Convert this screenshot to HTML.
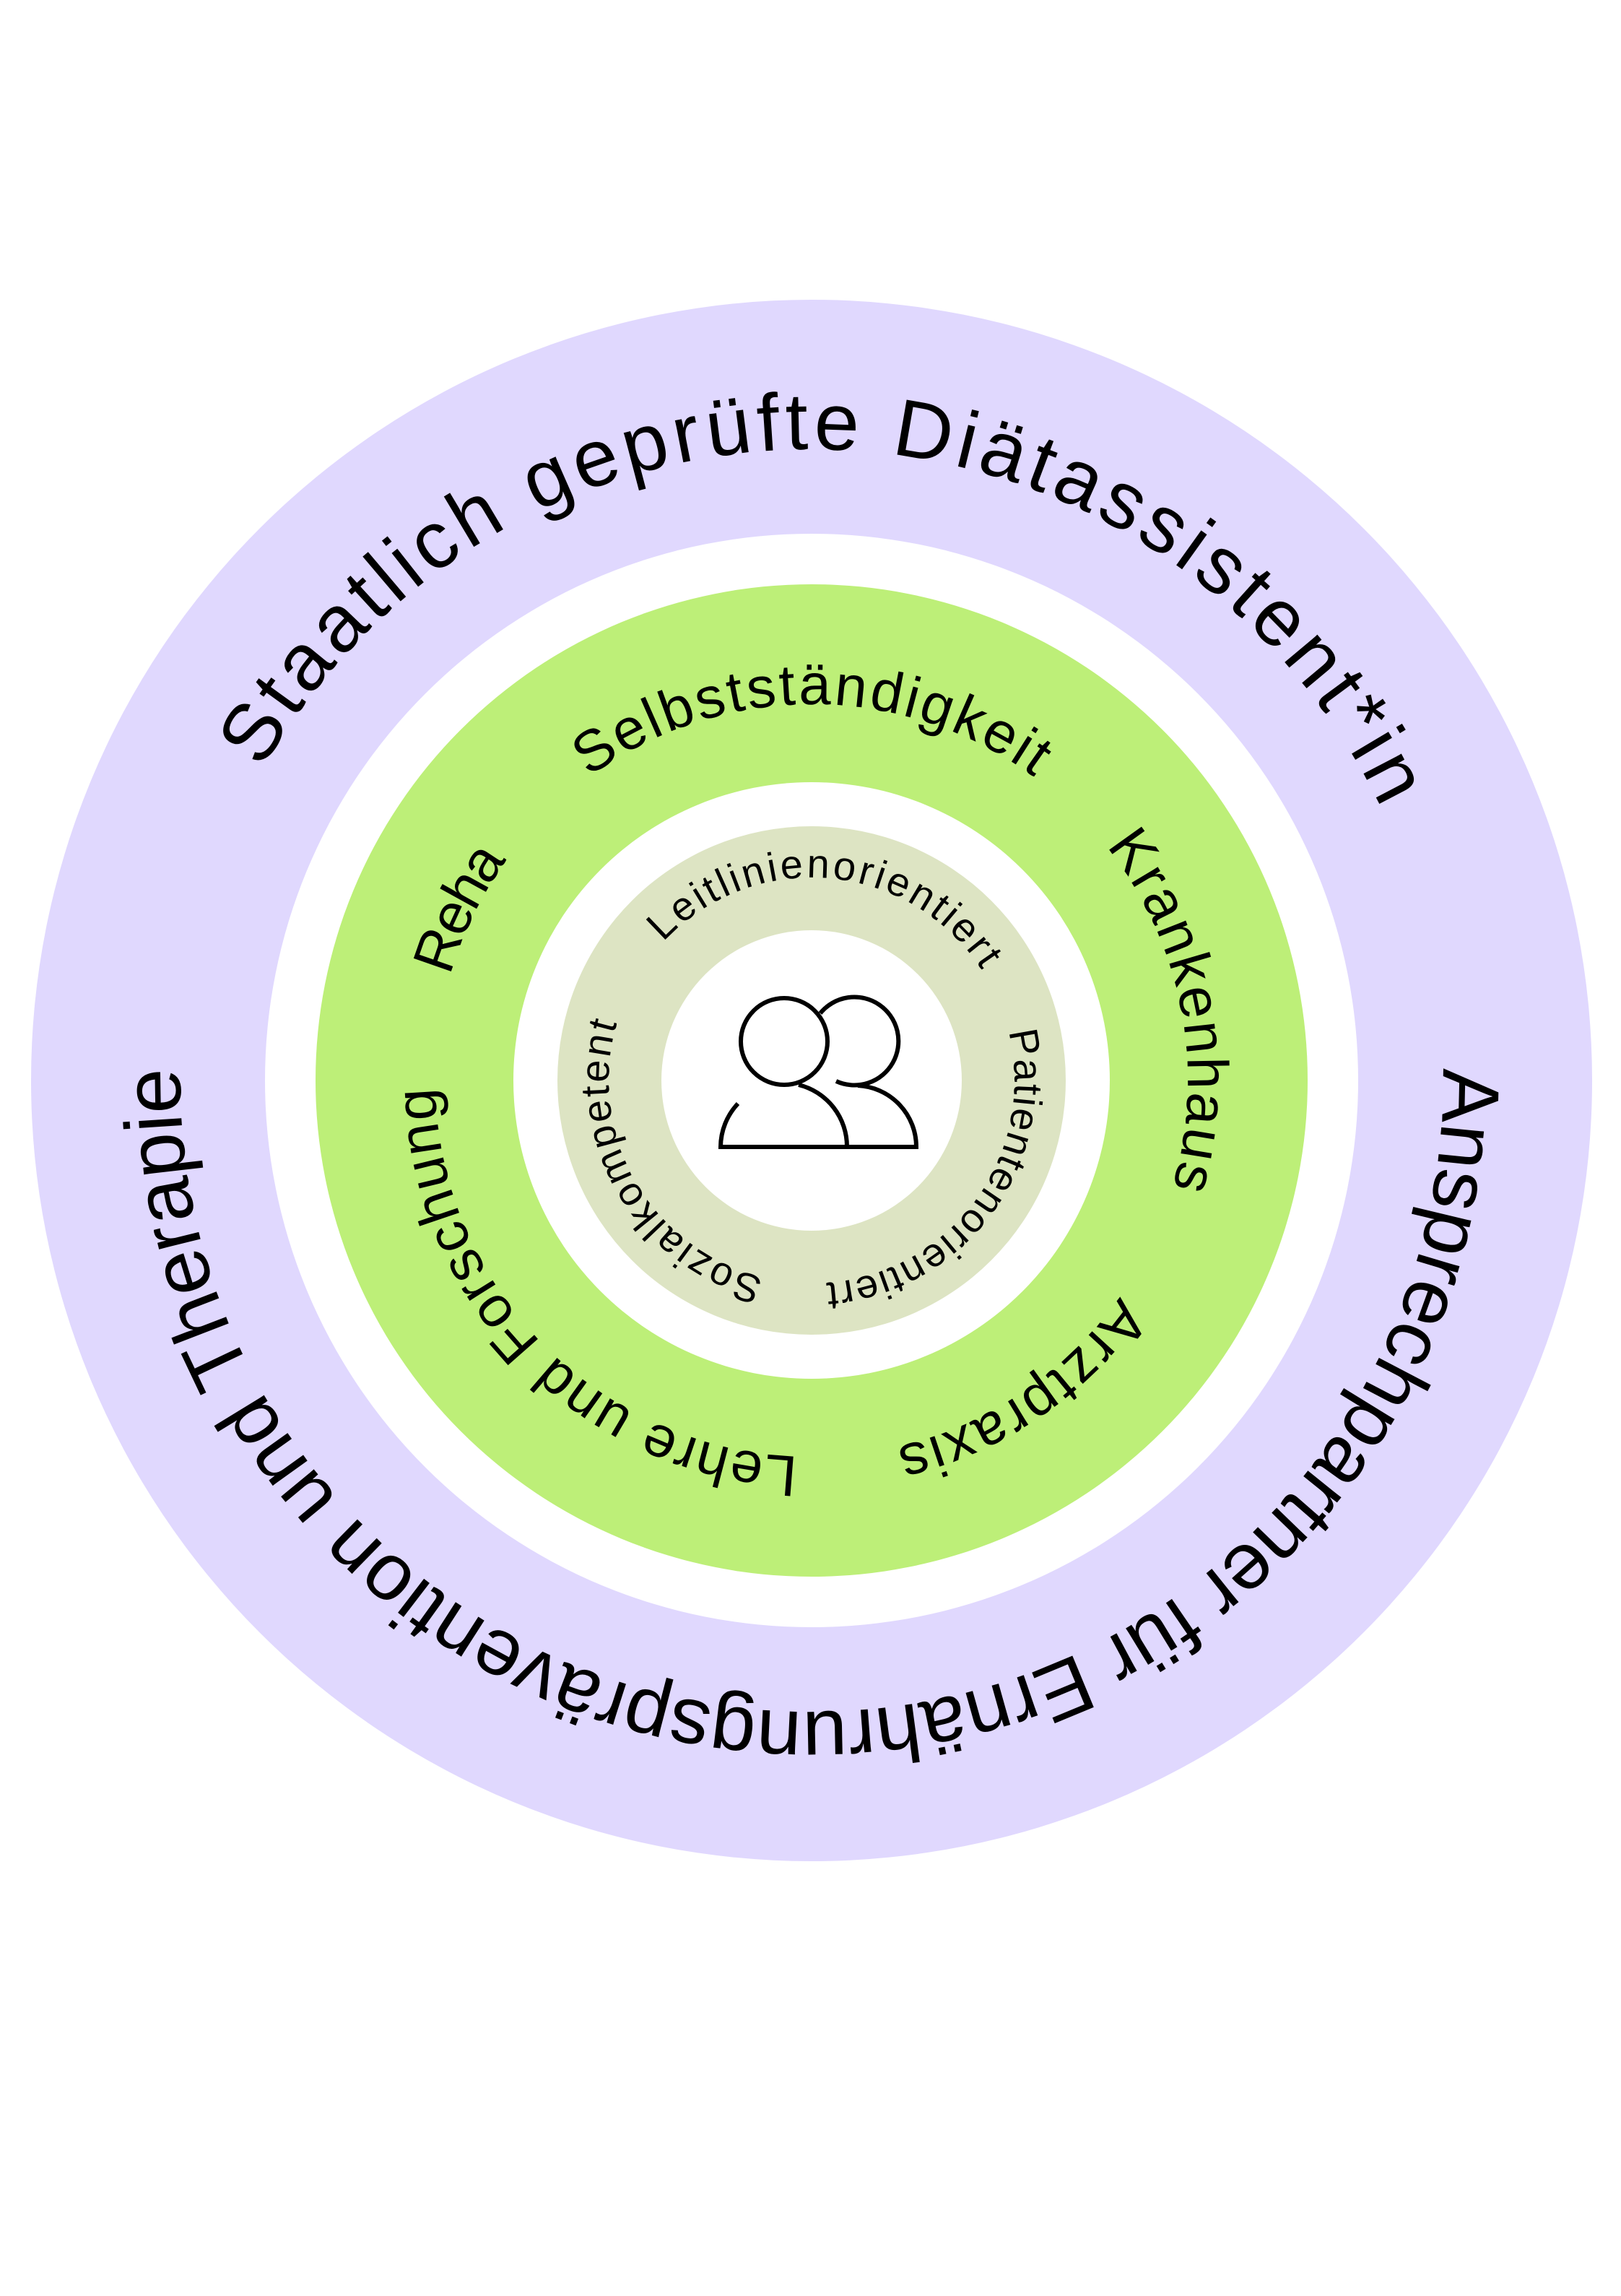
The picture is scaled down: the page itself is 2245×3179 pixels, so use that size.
<!DOCTYPE html>
<html><head><meta charset="utf-8"><style>html,body{margin:0;padding:0;background:#fff}svg{display:block}</style></head>
<body>
<svg width="2245" height="3179" viewBox="0 0 2245 3179" xmlns="http://www.w3.org/2000/svg" font-family="'Liberation Sans', sans-serif" fill="#000">
<defs>
<path id="po" d="M 250 1496 A 874 874 0 1 1 1998 1496 A 874 874 0 1 1 250 1496"/>
<path id="pg" d="M 603 1496 A 521 521 0 1 1 1645 1496 A 521 521 0 1 1 603 1496"/>
<path id="pi" d="M 843 1496 A 281 281 0 1 1 1405 1496 A 281 281 0 1 1 843 1496"/>
</defs>
<circle cx="1124" cy="1496" r="1081" fill="#e0d8fe"/>
<circle cx="1124" cy="1496" r="757" fill="#fff"/>
<circle cx="1124" cy="1496" r="687" fill="#bdef78"/>
<circle cx="1124" cy="1496" r="413" fill="#fff"/>
<circle cx="1124" cy="1496" r="352" fill="#dde4c3"/>
<circle cx="1124" cy="1496" r="208" fill="#fff"/>

<g font-size="112">
<g transform="rotate(-88 1124 1496)"><text text-anchor="middle" textLength="1907" lengthAdjust="spacing"><textPath href="#po" startOffset="50%">Staatlich geprüfte Diätassistent*in</textPath></text></g>
<g transform="rotate(90 1124 1496)"><text text-anchor="middle" textLength="2780" lengthAdjust="spacing"><textPath href="#po" startOffset="50%">Ansprechpartner für Ernährungsprävention und Therapie</textPath></text></g>
</g>

<g font-size="80">
<g transform="rotate(-90 1124 1496)"><text text-anchor="middle" textLength="660" lengthAdjust="spacing"><textPath href="#pg" startOffset="50%">Selbstständigkeit</textPath></text></g>
<g transform="rotate(-11 1124 1496)"><text text-anchor="middle" textLength="500" lengthAdjust="spacing"><textPath href="#pg" startOffset="50%">Krankenhaus</textPath></text></g>
<g transform="rotate(56 1124 1496)"><text text-anchor="middle" textLength="382" lengthAdjust="spacing"><textPath href="#pg" startOffset="50%">Arztpraxis</textPath></text></g>
<g transform="rotate(135.5 1124 1496)"><text text-anchor="middle" textLength="790" lengthAdjust="spacing"><textPath href="#pg" startOffset="50%">Lehre und Forschung</textPath></text></g>
<g transform="rotate(206 1124 1496)"><text text-anchor="middle" textLength="180" lengthAdjust="spacing"><textPath href="#pg" startOffset="50%">Reha</textPath></text></g>
</g>

<g font-size="56">
<g transform="rotate(-85 1124 1496)"><text text-anchor="middle" textLength="510" lengthAdjust="spacing"><textPath href="#pi" startOffset="50%">Leitlinienorientiert</textPath></text></g>
<g transform="rotate(36 1124 1496)"><text text-anchor="middle" textLength="490" lengthAdjust="spacing"><textPath href="#pi" startOffset="50%">Patientenorientiert</textPath></text></g>
<g transform="rotate(150 1124 1496)"><text text-anchor="middle" textLength="455" lengthAdjust="spacing"><textPath href="#pi" startOffset="50%">Sozialkompetent</textPath></text></g>
</g>

<g fill="none" stroke="#000" stroke-width="6">
<circle cx="1086" cy="1442" r="60"/>
<path d="M 1136 1403 A 61 61 0 1 1 1158 1497"/>
<path d="M 1022 1528 A 88 88 0 0 0 998 1588 L 1269 1588 A 85 85 0 0 0 1188 1503"/>
<path d="M 1106 1502 A 88 88 0 0 1 1173 1588"/>
</g>
</svg>
</body></html>
